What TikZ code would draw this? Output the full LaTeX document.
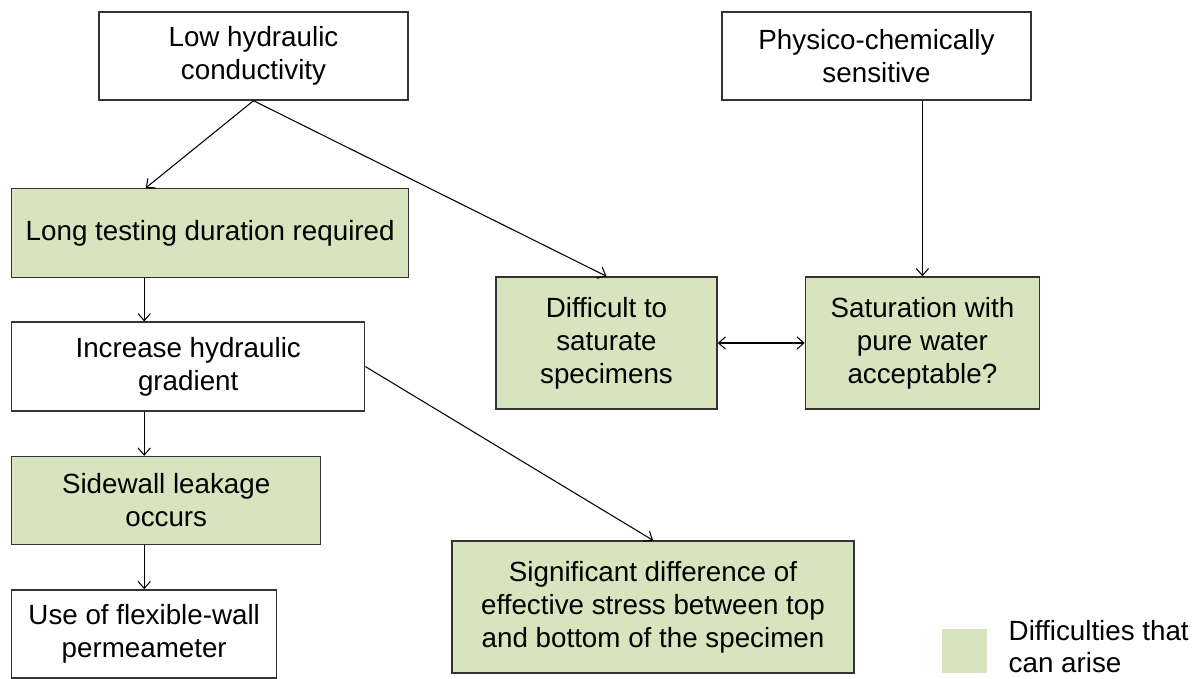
\documentclass[tikz,border=0pt]{standalone}
\usepackage{fontspec}
\setmainfont{Liberation Sans}
\usetikzlibrary{arrows.meta, positioning, calc}

\definecolor{hardgreen}{HTML}{D7E4BD}

\begin{document}
\begin{tikzpicture}[
		% Estilos de los bloques del diagrama
		block/.style = {draw=black!80, line width=0.8pt, fill=white, rectangle, align=center, inner sep=2pt, font=\fontsize{15.8}{18.8}\selectfont},
		hard_block/.style = {block, fill=hardgreen},
		link/.style = {draw=black, line width=0.6pt},
		>={Straight Barb[length=4pt, width=7pt]}
		]
		
		\useasboundingbox (0,0) rectangle (23.84,-13.56);
		
		% --- COLUMNA IZQUIERDA ---
		\node [block, minimum width=6.18cm, minimum height=1.76cm] (low_k) at (5.07,-1.12) {Low hydraulic\\conductivity};
		
		\node [hard_block, minimum width=7.94cm, minimum height=1.78cm, anchor=north west] (long_dur) at (0.22,-3.76) {Long testing duration required};
		
		\node [block, minimum width=7.06cm, minimum height=1.78cm, below=0.86cm of long_dur.south west, anchor=north west] (inc_grad) {Increase hydraulic\\gradient};
		
		\node [hard_block, minimum width=6.18cm, minimum height=1.76cm, below=0.88cm of inc_grad.south west, anchor=north west] (side_leak) {Sidewall leakage\\occurs};
		
		\node [block, minimum width=5.30cm, minimum height=1.76cm, below=0.88cm of side_leak.south west, anchor=north west] (flex_wall) {Use of flexible-wall\\permeameter};
		
		% --- COLUMNA DERECHA ---
		\node [block, minimum width=6.18cm, minimum height=1.76cm] (phys_chem) at (17.53,-1.12) {Physico-chemically\\sensitive};
		
		\node [hard_block, minimum width=4.42cm, minimum height=2.64cm] (diff_sat) at (12.13,-6.86) {Difficult to\\saturate\\specimens};
		
		\node [hard_block, minimum width=4.68cm, minimum height=2.64cm, right=1.74cm of diff_sat] (sat_water) {Saturation with\\pure water\\acceptable?};
		
		\node [hard_block, minimum width=8.04cm, minimum height=2.64cm] (eff_stress) at (13.06,-12.14) {Significant difference of\\effective stress between top\\and bottom of the specimen};
		
		% --- LEYENDA ---
		\node [fill=hardgreen, minimum width=0.9cm, minimum height=0.88cm, inner sep=0pt] (leg_box) at (19.29,-13.02) {};
		\node [right=0.42cm of leg_box, yshift=0.08cm, inner sep=0pt, align=left, font=\fontsize{15.8}{18.2}\selectfont] (leg_text) {Difficulties that\\can arise};
		
		% --- CONEXIONES ---
		\draw [link, ->] (low_k.south) -- ($(long_dur.north)+(-1.29,0)$);
		\draw [link, ->] (low_k.south) -- (diff_sat.north);
		\draw [link, ->] (long_dur.south -| flex_wall.north) -- (inc_grad.north -| flex_wall.north);
		\draw [link, ->] (inc_grad.south -| flex_wall.north) -- (side_leak.north -| flex_wall.north);
		\draw [link, ->] (side_leak.south -| flex_wall.north) -- (flex_wall.north);
		\draw [link, ->] (inc_grad.east) -- (eff_stress.north);
		\draw [link, ->] (phys_chem.south -| sat_water.north) -- (sat_water.north);
		\draw [link, <->] (diff_sat.east) -- (sat_water.west);
		
	\end{tikzpicture}
\end{document}
